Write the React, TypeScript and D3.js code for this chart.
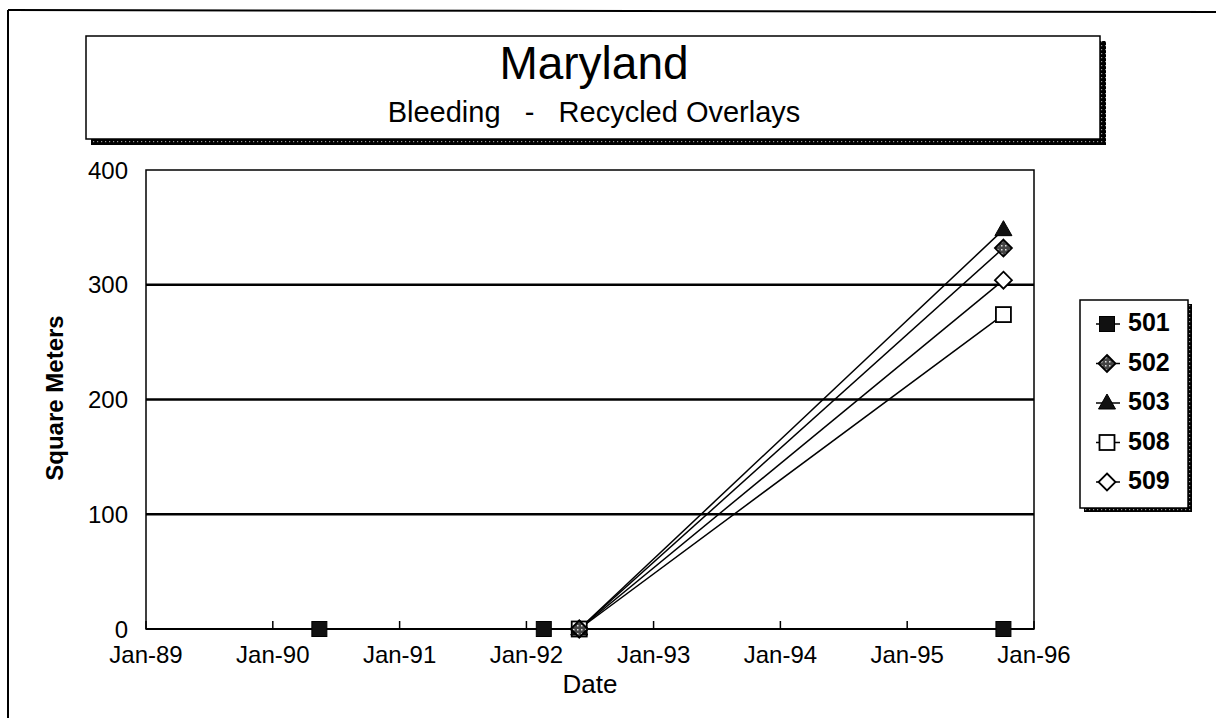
import React from "react";
import * as d3 from "d3";

const TITLE = "Maryland";
const SUBTITLE = "Bleeding   -   Recycled Overlays";
const X_LABEL = "Date";
const Y_LABEL = "Square Meters";

const SERIES_NAMES = ["501", "502", "503", "508", "509"];
const DATES_501 = ["1990-05-15", "1992-02-20", "1995-10-05"];
const VALUES_501 = [0, 0, 0];
const DATES_OTHERS = ["1992-06-01", "1995-10-05"];
const VALUES_502 = [0, 332];
const VALUES_503 = [0, 348];
const VALUES_508 = [0, 274];
const VALUES_509 = [0, 304];
const Y_TICKS = [0, 100, 200, 300, 400];
const X_TICKS = ["1989-01-01", "1990-01-01", "1991-01-01", "1992-01-01", "1993-01-01", "1994-01-01", "1995-01-01", "1996-01-01"];

const FONT = "'Liberation Sans', Arial, sans-serif";
const parse = d3.timeParse("%Y-%m-%d");

type Pt = { d: Date; v: number };
const mk = (ds: string[], vs: number[]): Pt[] => ds.map((s, i) => ({ d: parse(s) as Date, v: vs[i] }));

const seriesData: Record<string, Pt[]> = {
  "501": mk(DATES_501, VALUES_501),
  "502": mk(DATES_OTHERS, VALUES_502),
  "503": mk(DATES_OTHERS, VALUES_503),
  "508": mk(DATES_OTHERS, VALUES_508),
  "509": mk(DATES_OTHERS, VALUES_509),
};

function Marker({ name, x, y }: { name: string; x: number; y: number }) {
  const s = 7.5;
  if (name === "501")
    return <rect x={x - s} y={y - s} width={2 * s} height={2 * s} fill="#111" stroke="#000" strokeWidth={1} />;
  if (name === "502")
    return (
      <path
        d={`M${x},${y - 8.5}L${x + 8.5},${y}L${x},${y + 8.5}L${x - 8.5},${y}Z`}
        fill="url(#hatch)"
        stroke="#000"
        strokeWidth={1.8}
      />
    );
  if (name === "503")
    return <path d={`M${x},${y - 9}L${x + 8.5},${y + 6}L${x - 8.5},${y + 6}Z`} fill="#111" stroke="#000" strokeWidth={1} />;
  if (name === "508")
    return <rect x={x - s} y={y - s} width={2 * s} height={2 * s} fill="#fff" stroke="#000" strokeWidth={1.8} />;
  return (
    <path
      d={`M${x},${y - 8.5}L${x + 8.5},${y}L${x},${y + 8.5}L${x - 8.5},${y}Z`}
      fill="#fff"
      stroke="#000"
      strokeWidth={1.8}
    />
  );
}

export default function App() {
  const W = 1216;
  const H = 718;
  const left = 146, right = 1034, top = 170, bottom = 629;
  const x = d3.scaleTime().domain([parse("1989-01-01") as Date, parse("1996-01-01") as Date]).range([left, right]);
  const y = d3.scaleLinear().domain([0, 400]).range([bottom, top]);
  const fmt = d3.timeFormat("%b-%y");
  const line = d3
    .line<Pt>()
    .x((p) => x(p.d))
    .y((p) => y(p.v));

  const drawOrder = ["501", "509", "508", "503", "502"];

  return (
    <svg width={W} height={H} style={{ position: "absolute", left: 0, top: 0, background: "#fff" }} fontFamily={FONT}>
      <defs>
        <pattern id="hatch" width="4" height="4" patternUnits="userSpaceOnUse">
          <rect width="4" height="4" fill="#444" />
          <rect x="1" y="1" width="1.5" height="1.5" fill="#ddd" />
        </pattern>
        <pattern id="shadow" width="4" height="4" patternUnits="userSpaceOnUse">
          <rect width="4" height="4" fill="#000" />
          <rect x="1" y="1" width="1.2" height="1.2" fill="#999" />
        </pattern>
      </defs>

      {/* outer frame */}
      <line x1={8} y1={10} x2={W} y2={12} stroke="#000" strokeWidth={2} />
      <line x1={8} y1={10} x2={8} y2={H} stroke="#000" strokeWidth={2} />

      {/* title box */}
      <rect x={91} y={139} width={1015} height={6} fill="url(#shadow)" />
      <rect x={1100} y={41} width={6} height={104} fill="url(#shadow)" />
      <rect x={86} y={36} width={1014} height={103} fill="#fff" stroke="#000" strokeWidth={1.5} />
      <text x={594} y={79} textAnchor="middle" fontSize={46} fill="#000">
        {TITLE}
      </text>
      <text x={594} y={122} textAnchor="middle" fontSize={29} fill="#000" style={{ whiteSpace: "pre" }}>
        {SUBTITLE}
      </text>

      {/* plot frame */}
      <rect x={left} y={top} width={right - left} height={bottom - top} fill="none" stroke="#000" strokeWidth={1.5} />
      {Y_TICKS.filter((t) => t > 0 && t < 400).map((t) => (
        <line key={t} x1={left} x2={right} y1={y(t)} y2={y(t)} stroke="#000" strokeWidth={2.5} />
      ))}
      <line x1={left} x2={right} y1={bottom} y2={bottom} stroke="#000" strokeWidth={2} />

      {/* y tick labels */}
      {Y_TICKS.map((t) => (
        <text key={t} x={left - 18} y={y(t)} dy="0.36em" textAnchor="end" fontSize={24} fill="#000">
          {t}
        </text>
      ))}

      {/* x ticks */}
      {X_TICKS.map((s) => {
        const d = parse(s) as Date;
        return (
          <g key={s}>
            <line x1={x(d)} x2={x(d)} y1={bottom} y2={bottom - 8} stroke="#000" strokeWidth={1.5} />
            <text x={x(d)} y={663} textAnchor="middle" fontSize={24} fill="#000">
              {fmt(d)}
            </text>
          </g>
        );
      })}

      {/* axis titles */}
      <text x={590} y={693} textAnchor="middle" fontSize={26} fill="#000">
        {X_LABEL}
      </text>
      <text transform={`translate(63,398) rotate(-90)`} textAnchor="middle" fontSize={24} fontWeight="bold" fill="#000">
        {Y_LABEL}
      </text>

      {/* series lines */}
      {drawOrder.map((n) => (
        <path key={n} d={line(seriesData[n]) || ""} fill="none" stroke="#000" strokeWidth={1.5} />
      ))}
      {/* markers */}
      {drawOrder.map((n) =>
        seriesData[n].map((p, i) => <Marker key={n + i} name={n} x={x(p.d)} y={y(p.v)} />)
      )}

      {/* legend */}
      <rect x={1084} y={304} width={108} height={208} fill="url(#shadow)" />
      <rect x={1080} y={300} width={108} height={208} fill="#fff" stroke="#000" strokeWidth={1.5} />
      {SERIES_NAMES.map((n, i) => {
        const cy = 322 + i * 39.5;
        return (
          <g key={n}>
            <line x1={1096} x2={1120} y1={cy + 2} y2={cy + 2} stroke="#000" strokeWidth={1.5} />
            <Marker name={n} x={1107} y={cy + 2} />
            <text x={1128} y={cy} dy="0.36em" fontSize={25} fontWeight="bold" fill="#000">
              {n}
            </text>
          </g>
        );
      })}
    </svg>
  );
}
